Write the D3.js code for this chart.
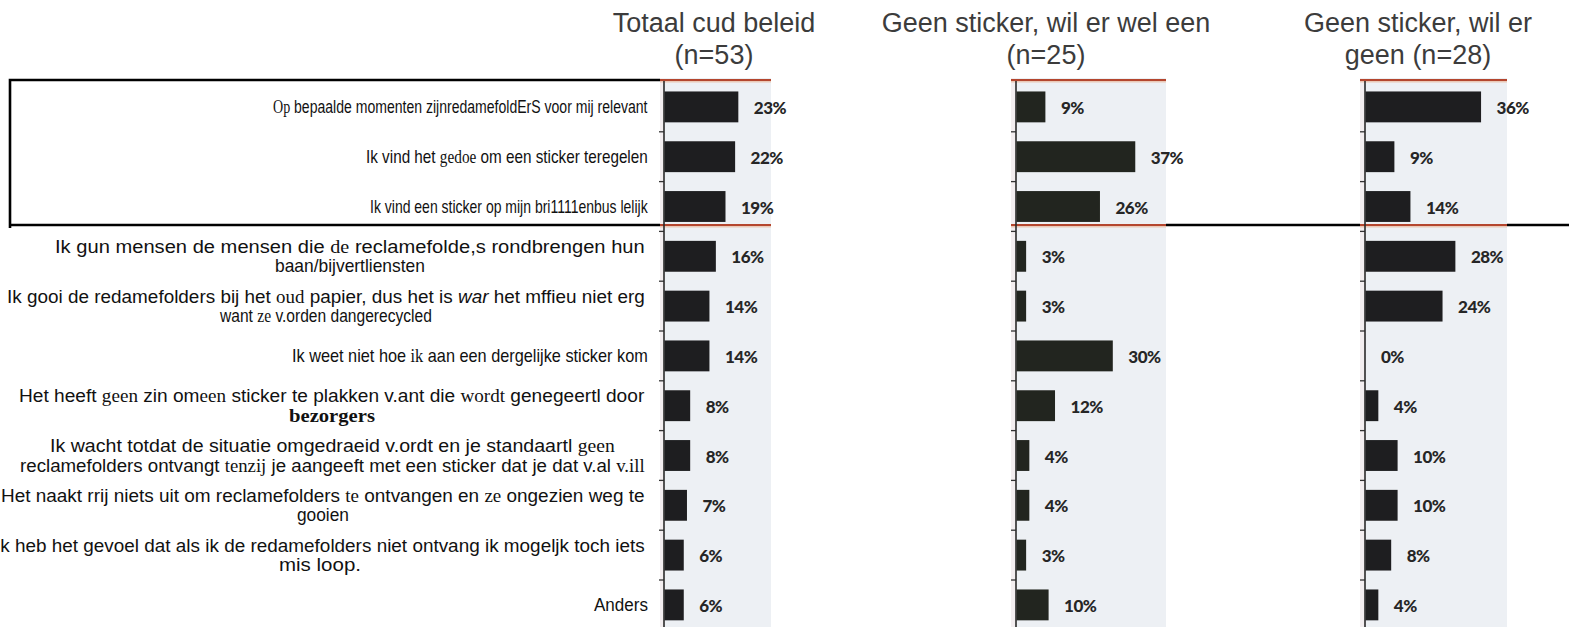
<!DOCTYPE html>
<html><head><meta charset="utf-8">
<script src="https://cdn.jsdelivr.net/npm/d3@7"></script>
<style>
body{margin:0;background:#fff;}
svg{display:block;}
</style>
</head><body>
<svg id="c" width="1569" height="627"></svg>
<script>
// ---- data ----
// markup in labels: ~serif~  _italic_  *bold serif*
const categories = [
  ["~Op~ bepaalde momenten zijnredamefoldErS voor mij relevant"],
  ["Ik vind het ~gedoe~ om een sticker teregelen"],
  ["Ik vind een sticker op mijn bri1111enbus lelijk"],
  ["Ik gun mensen de mensen die ~de~ reclamefolde,s rondbrengen hun", "baan/bijvertliensten"],
  ["Ik gooi de redamefolders bij het ~oud~ papier, dus het is _war_ het mffieu niet erg", "want ~ze~ v.orden dangerecycled"],
  ["Ik weet niet hoe ~ik~ aan een dergelijke sticker kom"],
  ["Het heeft ~geen~ zin om~een~ sticker te plakken v.ant die ~wordt~ genegeertl door", "*bezorgers*"],
  ["Ik wacht totdat de situatie omgedraeid v.ordt en je standaartl ~geen~", "reclamefolders ontvangt ~tenzij~ je aangeeft met een sticker dat je dat v.al ~v.ill~"],
  ["Het naakt rrij niets uit om reclamefolders ~te~ ontvangen en ~ze~ ongezien weg te", "gooien"],
  ["Ik heb het gevoel dat als ik de redamefolders niet ontvang ik mogeljk toch iets", "mis loop."],
  ["Anders"]
];
const totaalValues = [23, 22, 19, 16, 14, 14, 8, 8, 7, 6, 6];
const welEenValues = [9, 37, 26, 3, 3, 30, 12, 4, 4, 3, 10];
const geenValues   = [36, 9, 14, 28, 24, 0, 4, 10, 10, 8, 4];
const panelTitles = [
  ["Totaal cud beleid", "(n=53)"],
  ["Geen sticker, wil er wel een", "(n=25)"],
  ["Geen sticker, wil er", "geen (n=28)"]
];
const seriesList = [totaalValues, welEenValues, geenValues];

// ---- layout (fitted widths of the scanned label lines, px) ----
const labelLineWidths = [
  [375], [282], [278], [590, 150], [638, 212], [356], [626, 86],
  [565, 625], [644, 52], [650, 82], [54]
];
const W = 1569, H = 627;
const panels = [
  {axis: 664,  left: 660,  right: 771,  titleX: 714},
  {axis: 1016, left: 1011, right: 1166, titleX: 1046},
  {axis: 1365, left: 1360, right: 1507, titleX: 1418}
];
const labelRight = 648;
const topLine = 80, midLine = 225;

const svg = d3.select("#c");

const y = d3.scaleBand()
  .domain(d3.range(categories.length))
  .range([82, 629.8])
  .paddingInner(0.38)
  .paddingOuter(0.19);
const x = d3.scaleLinear().domain([0, 100]).range([0, 321]);

// black frame lines (drawn first, panels cover them)
svg.append("path")
  .attr("d", `M10,${topLine} H662 M10,${topLine-1.2} V${midLine+3} M10,${midLine} H662 M1166,${midLine} H${W}`)
  .attr("fill", "none").attr("stroke", "#000").attr("stroke-width", 2.6);

// panels
panels.forEach((p, pi) => {
  const g = svg.append("g");
  g.append("rect")
    .attr("x", p.left).attr("y", topLine - 2)
    .attr("width", p.right - p.left).attr("height", H - topLine + 2)
    .attr("fill", "#edf0f4");
  g.append("rect")
    .attr("x", p.left).attr("y", topLine - 2)
    .attr("width", p.axis - p.left).attr("height", H - topLine + 2)
    .attr("fill", "#f3eef0");

  [topLine, midLine].forEach(ly => {
    g.append("line").attr("x1", p.left).attr("x2", p.right).attr("y1", ly + 1.5).attr("y2", ly + 1.5)
      .attr("stroke", "#e9b08f").attr("stroke-width", 2).attr("opacity", 0.6);
    g.append("line").attr("x1", p.left).attr("x2", p.right).attr("y1", ly).attr("y2", ly)
      .attr("stroke", "#b4462e").attr("stroke-width", 2.2);
  });

  const axisG = g.append("g")
    .attr("transform", `translate(${p.axis},${-y.step() / 2})`)
    .call(d3.axisLeft(y).tickSize(5).tickSizeOuter(0).tickFormat(""));
  axisG.select(".domain").remove();
  axisG.selectAll(".tick line").attr("stroke", "#333").attr("stroke-width", 1.3);
  axisG.selectAll(".tick").filter(d => d === 0).remove();
  g.append("line").attr("x1", p.axis).attr("x2", p.axis).attr("y1", topLine + 1).attr("y2", H)
    .attr("stroke", "#2a2a2a").attr("stroke-width", 1.6);

  const vals = seriesList[pi];
  g.selectAll("rect.bar").data(vals).join("rect")
    .attr("class", "bar")
    .attr("x", p.axis + 0.5)
    .attr("y", (d, i) => y(i))
    .attr("width", d => x(d))
    .attr("height", y.bandwidth())
    .attr("fill", pi === 1 ? "#22251f" : "#1e1e20");
  g.selectAll("text.val").data(vals).join("text")
    .attr("class", "val")
    .attr("x", d => p.axis + x(d) + 16)
    .attr("y", (d, i) => y(i) + y.bandwidth() / 2 + 7)
    .attr("font-family", "Lato, 'Open Sans', sans-serif")
    .attr("font-weight", 900)
    .attr("font-size", 17)
    .attr("letter-spacing", -0.5)
    .attr("fill", "#262626")
    .text(d => d + "%");

  const t = svg.append("text")
    .attr("text-anchor", "middle")
    .attr("font-family", "'Liberation Sans', Arial, sans-serif")
    .attr("font-size", 27)
    .attr("fill", "#3c3c3c");
  panelTitles[pi].forEach((line, li) => {
    t.append("tspan").attr("x", p.titleX).attr("y", li === 0 ? 32 : 64).text(line);
  });
});

// category labels
function parseSegs(s) {
  return s.split(/(~[^~]+~|_[^_]+_|\*[^*]+\*)/).filter(d => d.length).map(part => {
    if (part[0] === "~") return {t: part.slice(1, -1), st: "serif"};
    if (part[0] === "_") return {t: part.slice(1, -1), st: "italic"};
    if (part[0] === "*") return {t: part.slice(1, -1), st: "bold"};
    return {t: part, st: "sans"};
  });
}
const FS = 18.5;
const labG = svg.append("g")
  .attr("font-family", "'Liberation Sans', Arial, sans-serif")
  .attr("font-size", FS)
  .attr("fill", "#111");

categories.forEach((lines, i) => {
  const cy = y(i) + y.bandwidth() / 2;
  const items = lines.map((line, li) => {
    const te = labG.append("text").attr("x", 0).attr("y", 0);
    parseSegs(line).forEach(sg => {
      const ts = te.append("tspan").text(sg.t);
      if (sg.st === "serif") ts.attr("font-family", "'Liberation Serif', 'Times New Roman', serif");
      if (sg.st === "italic") ts.attr("font-style", "italic");
      if (sg.st === "bold") ts.attr("font-family", "'Liberation Serif', 'Times New Roman', serif").attr("font-weight", 700).attr("font-size", 19);
    });
    const natural = te.node().getComputedTextLength();
    const target = labelLineWidths[i][li] || natural;
    return {te, natural, target, sx: target / natural};
  });
  const maxW = d3.max(items, d => d.target);
  items.forEach((it, li) => {
    let left, base;
    if (lines.length === 1) {
      left = labelRight - it.target;
      base = cy + 6.5;
    } else {
      const center = labelRight - 3 - maxW / 2;
      left = center - it.target / 2;
      base = li === 0 ? cy - 3.5 : cy + 16;
    }
    it.te.attr("transform", `translate(${left},${base}) scale(${it.sx},1)`);
  });
});
</script>
</body></html>
